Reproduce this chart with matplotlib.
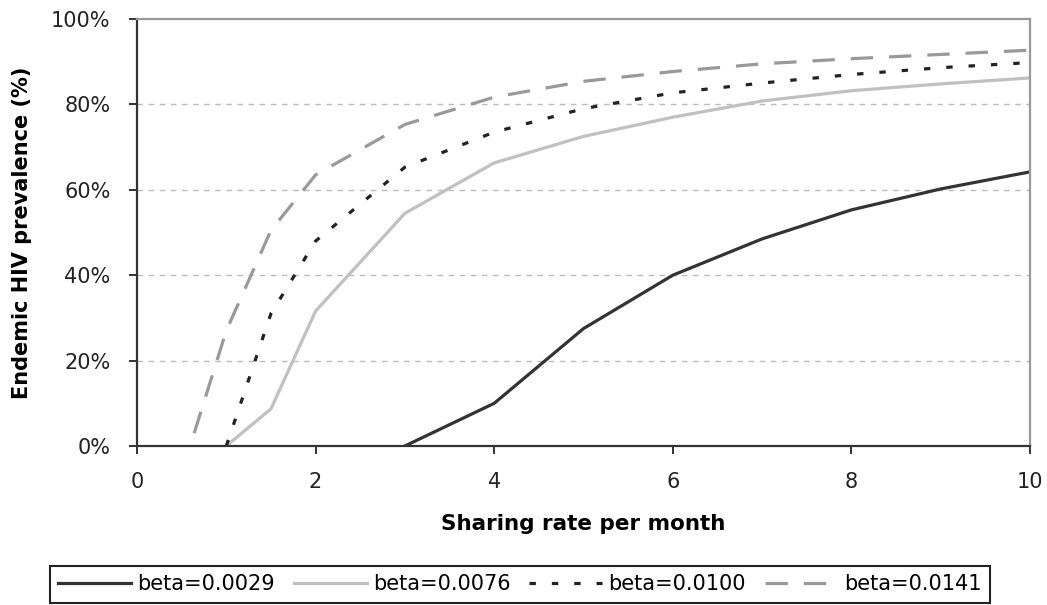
import numpy as np
import matplotlib
matplotlib.use("Agg")
import matplotlib.pyplot as plt
from matplotlib.ticker import FuncFormatter

# endemic prevalence (%) vs sharing rate, one curve per beta
x_0029 = [3, 4, 5, 6, 7, 8, 9, 10]
y_0029 = [0, 10, 27.5, 40, 48.5, 55.3, 60.2, 64.2]

x_0076 = [1, 1.5, 2, 3, 4, 5, 6, 7, 8, 9, 10]
y_0076 = [0, 8.7, 31.6, 54.5, 66.3, 72.5, 77, 80.8, 83.2, 84.8, 86.2]

x_0100 = [1, 1.5, 2, 3, 4, 5, 6, 7, 8, 9, 10]
y_0100 = [0, 31, 48, 65.3, 73.5, 79, 82.7, 85, 87, 88.6, 89.8]

x_0141 = [0.64, 1, 1.5, 2, 3, 4, 5, 6, 7, 8, 9, 10]
y_0141 = [3, 27, 50.5, 63.5, 75.3, 81.7, 85.4, 87.7, 89.5, 90.7, 91.7, 92.7]

labels = ["beta=0.0029", "beta=0.0076", "beta=0.0100", "beta=0.0141"]
x_ticks = [0, 2, 4, 6, 8, 10]
y_ticks = [0, 20, 40, 60, 80, 100]

plt.rcParams["font.family"] = ["DejaVu Sans"]

fig = plt.figure(figsize=(10.47, 6.05), dpi=100)
ax = fig.add_axes([0.13085, 0.26281, 0.85291, 0.70579])

ax.plot(x_0029, y_0029, color="#333333", lw=2.3, label=labels[0])
ax.plot(x_0076, y_0076, color="#c0c0c0", lw=2.3, label=labels[1])
ax.plot(x_0100, y_0100, color="#222222", lw=2.3, dashes=(2, 5), label=labels[2])
ax.plot(x_0141, y_0141, color="#999999", lw=2.3, dashes=(7, 5), label=labels[3])

ax.set_xlim(0, 10)
ax.set_ylim(0, 100)
ax.set_xticks(x_ticks)
ax.set_yticks(y_ticks)
ax.yaxis.set_major_formatter(FuncFormatter(lambda v, p: "%d%%" % v))
ax.tick_params(direction="out", length=6, width=1.3, labelsize=15, pad=13, colors="#222222")

# dashed horizontal grid, no line at 100% (the frame is there)
for v in y_ticks[1:-1]:
    ax.axhline(v, color="#bbbbbb", lw=1, dashes=(4, 4), zorder=0)

for s in ["left", "bottom"]:
    ax.spines[s].set_color("#333333")
    ax.spines[s].set_linewidth(1.6)
for s in ["top", "right"]:
    ax.spines[s].set_color("#999999")
    ax.spines[s].set_linewidth(1.6)

ax.set_xlabel("Sharing rate per month", fontsize=15.5, fontweight="bold", va="center")
ax.xaxis.set_label_coords(0.5, -0.183)
ax.set_ylabel("Endemic HIV prevalence (%)", fontsize=15, fontweight="bold", va="center")
ax.yaxis.set_label_coords(-0.1288, 0.5)

leg = ax.legend(loc="upper left", bbox_to_anchor=(50 / 1047, 1 - 566 / 605),
                bbox_transform=fig.transFigure, ncol=4, fontsize=15,
                handlelength=3.5, handletextpad=0.3, columnspacing=0.9,
                borderaxespad=0, borderpad=0.4, fancybox=False, framealpha=1)
leg.get_frame().set_edgecolor("#222222")
leg.get_frame().set_linewidth(1.5)

fig.savefig("out.png", dpi=100, facecolor="white")
